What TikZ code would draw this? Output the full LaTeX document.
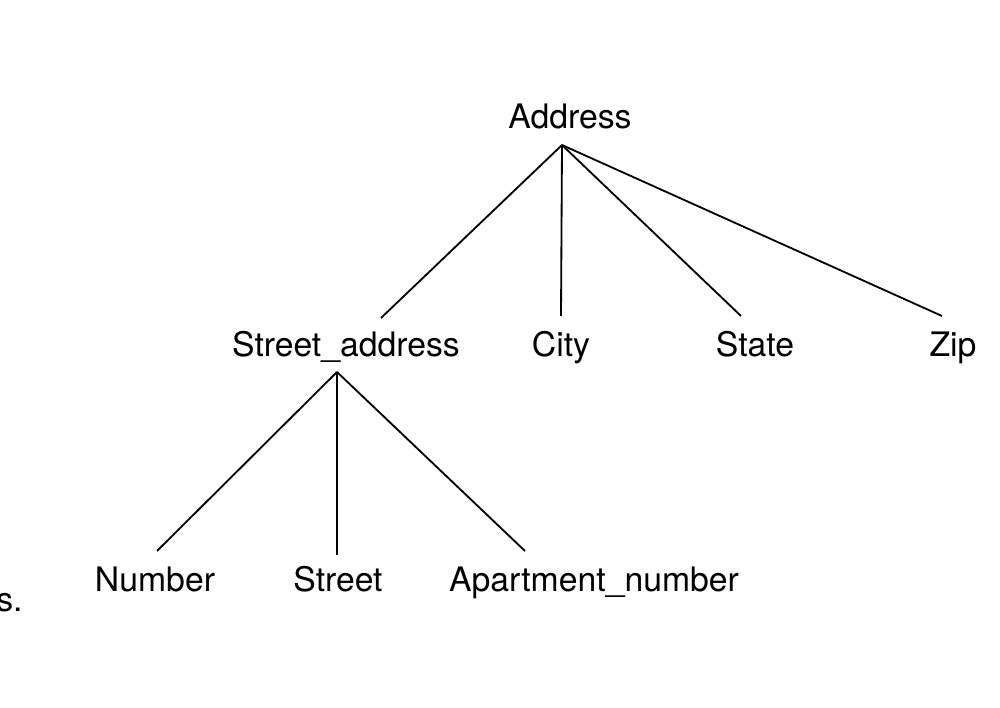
\documentclass[tikz,border=0pt]{standalone}
\usepackage{fontspec}
\setmainfont{TeX Gyre Heros}
\begin{document}
\begin{tikzpicture}[x=0.025cm,y=-0.025cm,
  lbl/.style={inner sep=0pt,anchor=base,font=\fontsize{24}{28}\selectfont},
  edge/.style={line width=1.3pt}]
\useasboundingbox (0,0) rectangle (1000,708);
% labels, set on common baselines per level
\node[lbl] (address) at (570,129) {Address};
\node[lbl] (streetaddr) at (346,357) {Street\_address};
\node[lbl] (city) at (561,357) {City};
\node[lbl] (state) at (755,357) {State};
\node[lbl] (zip) at (953,357) {Zip};
\node[lbl] (number) at (155,591) {Number};
\node[lbl] (street) at (338,591) {Street};
\node[lbl] (aptnum) at (594,591) {Apartment\_number};
\node[lbl,anchor=base west] (capfrag) at (-4,611) {s.};
% connection points of the branches
\coordinate (address-b) at (562,145);
\coordinate (streetaddr-t) at (381,318);
\coordinate (city-t) at (561,316);
\coordinate (state-t) at (741,316);
\coordinate (zip-t) at (942,316);
\coordinate (streetaddr-b) at (337,372);
\coordinate (number-t) at (157,551);
\coordinate (street-t) at (337,555);
\coordinate (aptnum-t) at (525,551);
% branches
\draw[edge] (address-b) -- (streetaddr-t);
\draw[edge] (address-b) -- (city-t);
\draw[edge] (address-b) -- (state-t);
\draw[edge] (address-b) -- (zip-t);
\draw[edge] (streetaddr-b) -- (number-t);
\draw[edge] (streetaddr-b) -- (street-t);
\draw[edge] (streetaddr-b) -- (aptnum-t);
\end{tikzpicture}
\end{document}
